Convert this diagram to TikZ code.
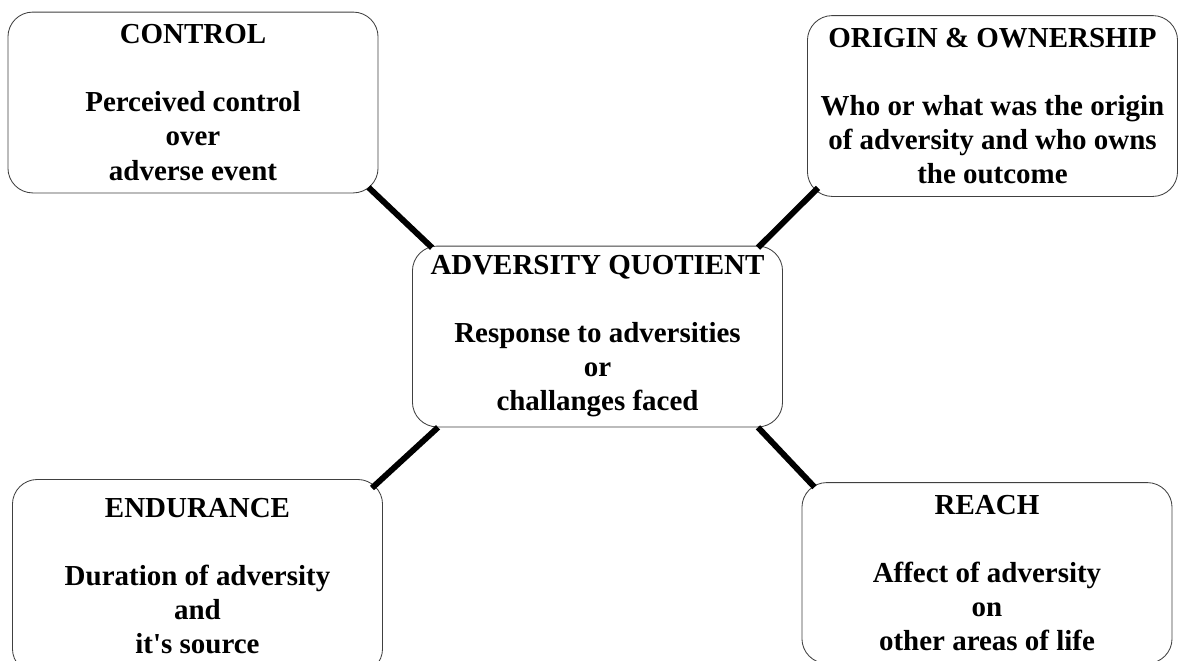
\documentclass[tikz,border=0pt]{standalone}
\usepackage{fontspec}
\setmainfont{Liberation Serif}
\usepackage{tikz}
\usetikzlibrary{calc}

\begin{document}
\begin{tikzpicture}[
    x=0.025cm, y=-0.025cm,
    font=\fontsize{20.6}{24.2}\selectfont\bfseries,
    box/.style={rectangle, draw=black!75, line width=0.6pt, fill=white, rounded corners=0.62cm, align=center, inner sep=0pt, minimum width=9.25cm, minimum height=4.52cm},
    link/.style={draw=black, line width=4.2pt}
]
    \useasboundingbox (0,0) rectangle (1180,660);

    % Node layout
    \node[box] (aq) at (597.5,336.5) {ADVERSITY QUOTIENT\\[24.2pt] Response to adversities\\ or\\ challanges faced};
    \node[box] (ctrl) at (193,102.5) {CONTROL\\[24.2pt] Perceived control\\ over\\ adverse event};
    \node[box] (origin) at (992.5,106) {ORIGIN \& OWNERSHIP\\[24.2pt] Who or what was the origin\\ of adversity and who owns\\ the outcome};
    \node[box, minimum height=4.85cm] (endur) at (197.5,576.5) {ENDURANCE\\[24.2pt] Duration of adversity\\ and\\ it\textquotesingle s source};
    \node[box] (reach) at (987,573) {REACH\\[24.2pt] Affect of adversity\\ on\\ other areas of life};

    % Connections
    \draw[link] ($(ctrl.south east)+(-10,-6)$) -- ($(aq.north west)+(20,2)$);
    \draw[link] ($(origin.south west)+(11,-9)$) -- ($(aq.north east)+(-25,2)$);
    \draw[link] ($(aq.south west)+(26,0)$) -- ($(endur.north east)+(-11,9)$);
    \draw[link] ($(aq.south east)+(-25,0)$) -- ($(reach.north west)+(13,5)$);
\end{tikzpicture}
\end{document}
